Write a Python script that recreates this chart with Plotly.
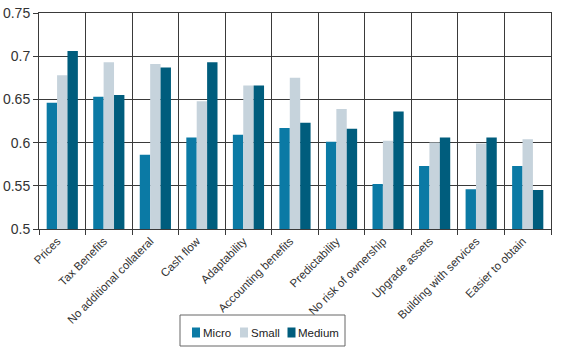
import plotly.graph_objects as go

categories = ["Prices", "Tax Benefits", "No additional collateral", "Cash flow",
              "Adaptability", "Accounting benefits", "Predictability",
              "No risk of ownership", "Upgrade assets", "Building with services",
              "Easier to obtain"]
series_names = ["Micro", "Small", "Medium"]
micro = [0.646, 0.653, 0.586, 0.606, 0.609, 0.617, 0.601, 0.552, 0.573, 0.546, 0.573]
small = [0.678, 0.693, 0.691, 0.648, 0.666, 0.675, 0.639, 0.602, 0.600, 0.599, 0.604]
medium = [0.706, 0.655, 0.687, 0.693, 0.666, 0.623, 0.616, 0.636, 0.606, 0.606, 0.545]
y_ticks = [0.5, 0.55, 0.6, 0.65, 0.7, 0.75]
y_ticktext = ["0.5", "0.55", "0.6", "0.65", "0.7", "0.75"]

colors = {"Micro": "#0b7aa5", "Small": "#c6d3dc", "Medium": "#005d7d"}

W, H = 566, 352
ML, MR, MT, MB = 39, 15, 13, 123
PW, PH = W - ML - MR, H - MT - MB

def px_x(x):
    return (x - ML) / PW

def px_y(y):
    return (H - MB - y) / PH

fig = go.Figure()
for name, vals in zip(series_names, [micro, small, medium]):
    fig.add_trace(go.Bar(x=categories, y=vals, name=name,
                         marker=dict(color=colors[name], line=dict(width=0)),
                         base=0, showlegend=False))

# manual compact legend
shapes = [dict(type="rect", xref="paper", yref="paper",
               x0=px_x(180), x1=px_x(345), y0=px_y(346), y1=px_y(315),
               line=dict(color="#666666", width=1), fillcolor="white")]
annotations = []
sq_x = [192, 240, 287.5]
for name, sx in zip(series_names, sq_x):
    shapes.append(dict(type="rect", xref="paper", yref="paper",
                       x0=px_x(sx), x1=px_x(sx + 8), y0=px_y(337.5), y1=px_y(327.5),
                       line=dict(width=0), fillcolor=colors[name]))
    annotations.append(dict(xref="paper", yref="paper", x=px_x(sx + 8.5), y=px_y(332.5),
                            text=name, showarrow=False, xanchor="left", yanchor="middle",
                            font=dict(size=11.5, color="#222222")))

gridc = "#3a3a3a"
fig.update_layout(
    width=W, height=H,
    margin=dict(l=ML, r=MR, t=MT, b=MB),
    paper_bgcolor="white", plot_bgcolor="white",
    barmode="group", bargap=0.33, bargroupgap=0,
    font=dict(family="Liberation Sans, Arial, sans-serif", size=12, color="#333333"),
    showlegend=False,
    shapes=shapes, annotations=annotations,
)
fig.update_xaxes(type="category", tickson="boundaries", showgrid=True, gridcolor=gridc,
                 gridwidth=1, ticks="outside", ticklen=5, tickcolor=gridc,
                 showline=True, linecolor=gridc, mirror=True, tickangle=-45,
                 ticklabelshift=-5, automargin=False,
                 tickfont=dict(size=11.5, color="#333333"))
fig.update_yaxes(range=[0.5, 0.75], tickvals=y_ticks, ticktext=y_ticktext,
                 showgrid=True, gridcolor=gridc, gridwidth=1, ticks="outside",
                 ticklen=5, tickcolor=gridc, showline=True, linecolor=gridc,
                 mirror=True, zeroline=False, automargin=False,
                 tickfont=dict(size=14, color="#333333"))

fig.write_html("out.html")
